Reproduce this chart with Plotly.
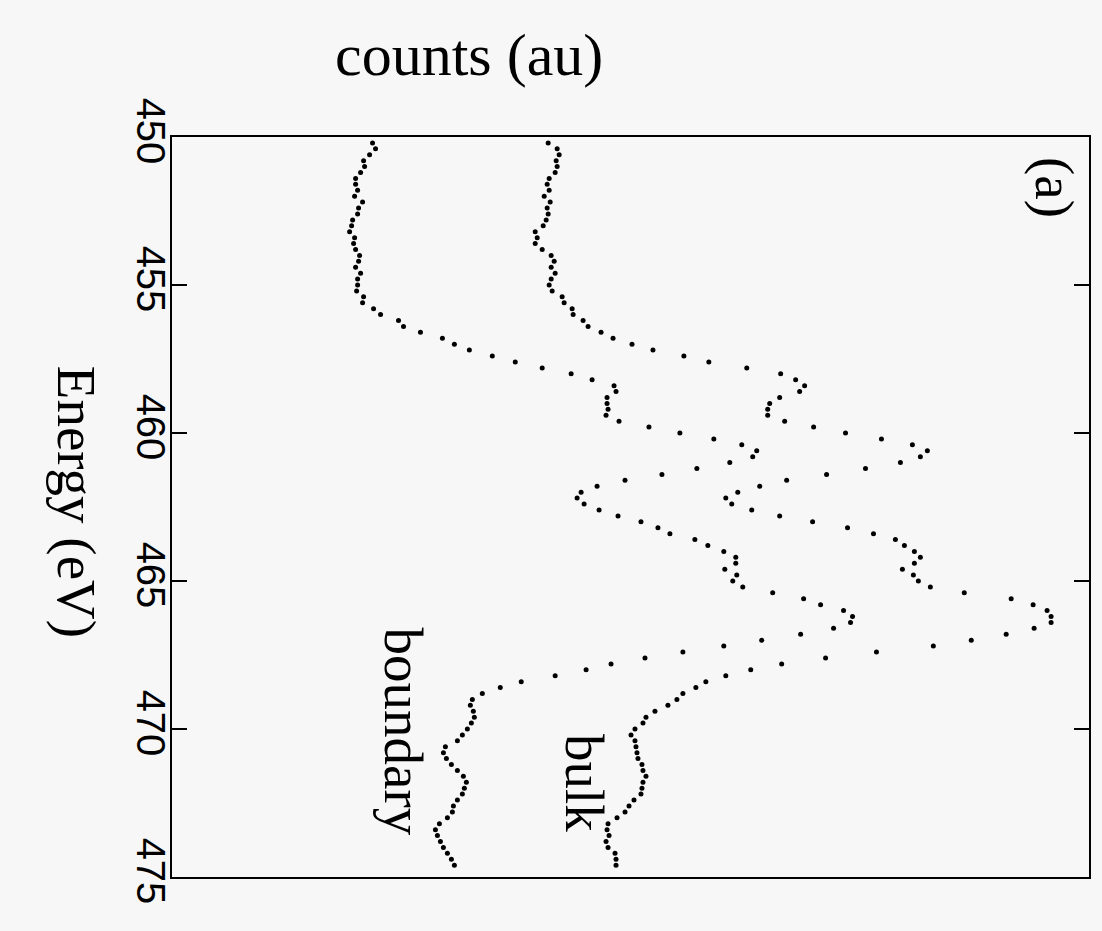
import plotly.graph_objects as go

# Energy grid (eV), one sample every 0.2 eV
energy = [
    450.2, 450.4, 450.6, 450.8, 451.0, 451.2, 451.4, 451.6, 451.8, 452.0,
    452.2, 452.4, 452.6, 452.8, 453.0, 453.2, 453.4, 453.6, 453.8, 454.0,
    454.2, 454.4, 454.6, 454.8, 455.0, 455.2, 455.4, 455.6, 455.8, 456.0,
    456.2, 456.4, 456.6, 456.8, 457.0, 457.2, 457.4, 457.6, 457.8, 458.0,
    458.2, 458.4, 458.6, 458.8, 459.0, 459.2, 459.4, 459.6, 459.8, 460.0,
    460.2, 460.4, 460.6, 460.8, 461.0, 461.2, 461.4, 461.6, 461.8, 462.0,
    462.2, 462.4, 462.6, 462.8, 463.0, 463.2, 463.4, 463.6, 463.8, 464.0,
    464.2, 464.4, 464.6, 464.8, 465.0, 465.2, 465.4, 465.6, 465.8, 466.0,
    466.2, 466.4, 466.6, 466.8, 467.0, 467.2, 467.4, 467.6, 467.8, 468.0,
    468.2, 468.4, 468.6, 468.8, 469.0, 469.2, 469.4, 469.6, 469.8, 470.0,
    470.2, 470.4, 470.6, 470.8, 471.0, 471.2, 471.4, 471.6, 471.8, 472.0,
    472.2, 472.4, 472.6, 472.8, 473.0, 473.2, 473.4, 473.6, 473.8, 474.0,
    474.2, 474.4, 474.6,
]

# counts (arbitrary units)
boundary = [
    201, 204, 198, 192, 193, 189, 184, 184, 186, 183,
    191, 187, 186, 181, 180, 178, 183, 182, 184, 188,
    187, 184, 189, 186, 186, 185, 192, 191, 202, 209,
    227, 232, 249, 271, 283, 298, 321, 344, 371, 400,
    421, 443, 445, 436, 436, 437, 435, 448, 478, 509,
    543, 571, 586, 582, 559, 526, 491, 454, 426, 410,
    406, 413, 428, 447, 470, 487, 499, 524, 537, 553,
    565, 565, 554, 566, 562, 572, 602, 633, 650, 673,
    682, 680, 663, 630, 591, 553, 512, 474, 440, 415,
    384, 350, 329, 311, 301, 299, 302, 303, 300, 296,
    291, 286, 274, 272, 275, 280, 286, 292, 295, 293,
    291, 286, 282, 281, 276, 268, 264, 266, 269, 272,
    276, 280, 283,
]

bulk = [
    377, 386, 388, 385, 386, 384, 378, 376, 378, 373,
    379, 376, 377, 375, 372, 364, 366, 364, 371, 380,
    383, 380, 384, 380, 378, 381, 391, 393, 401, 402,
    412, 417, 430, 442, 461, 482, 513, 538, 576, 610,
    625, 634, 629, 609, 599, 597, 597, 614, 643, 675,
    711, 742, 757, 750, 730, 695, 656, 616, 589, 567,
    555, 561, 581, 609, 642, 677, 703, 725, 734, 744,
    750, 744, 732, 743, 748, 760, 794, 841, 863, 877,
    881, 881, 864, 836, 801, 763, 706, 655, 611, 580,
    555, 535, 525, 512, 506, 497, 484, 475, 472, 464,
    460, 464, 465, 466, 467, 471, 472, 475, 472, 471,
    470, 463, 458, 454, 446, 437, 436, 438, 435, 437,
    444, 445, 445,
]

energy_ticks = [450, 455, 460, 465, 470, 475]

BG = "#f7f7f7"
SERIF = "Liberation Serif, Times New Roman, serif"
SANS = "Liberation Sans, Arial, sans-serif"

W, H = 1102, 931
L, R, T, B = 172, 11, 137, 54
PW, PH = W - L - R, H - T - B

fig = go.Figure()
for name, vals in [("boundary", boundary), ("bulk", bulk)]:
    fig.add_trace(go.Scatter(
        x=vals, y=energy, mode="markers", name=name,
        marker=dict(color="black", size=5),
        showlegend=False,
    ))

fig.update_layout(
    width=W, height=H,
    margin=dict(l=L, r=R, t=T, b=B),
    paper_bgcolor=BG, plot_bgcolor=BG,
    showlegend=False,
)
fig.update_xaxes(
    range=[0, 919], showgrid=False, zeroline=False,
    showline=True, linecolor="black", linewidth=2, mirror=True,
    showticklabels=False, ticks="",
)
fig.update_yaxes(
    range=[475, 450], tickvals=energy_ticks,
    ticktext=[str(v) for v in energy_ticks],
    showgrid=False, zeroline=False,
    showline=True, linecolor="black", linewidth=2, mirror="ticks",
    ticks="inside", ticklen=15, tickwidth=2, tickcolor="black",
    tickangle=90, ticklabelstandoff=-15,
    tickfont=dict(family=SANS, size=40, color="black"),
)

annos = [
    dict(text="Energy (eV)", x=76, y=502, textangle=90, size=55),
    dict(text="counts (au)", x=470, y=55, textangle=0, size=60),
    dict(text="(a)", x=1057, y=187, textangle=90, size=55),
    dict(text="boundary", x=405, y=732, textangle=90, size=55),
    dict(text="bulk", x=586, y=783, textangle=90, size=55),
]
for a in annos:
    fig.add_annotation(
        text=a["text"], x=(a["x"] - L) / PW, y=(H - B - a["y"]) / PH,
        xref="paper", yref="paper", xanchor="center", yanchor="middle",
        showarrow=False, textangle=a["textangle"],
        font=dict(family=SERIF, size=a["size"], color="black"),
    )

fig.write_html(
    "out.html",
    config={"displayModeBar": False},
    post_script="document.body.style.margin='0';document.body.style.background='#f7f7f7';",
)
